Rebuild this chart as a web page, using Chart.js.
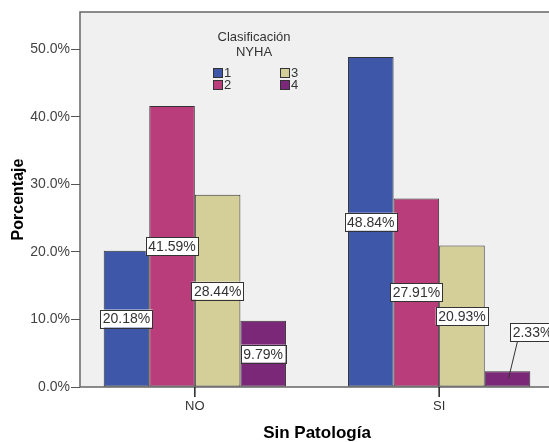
<!DOCTYPE html>
<html lang="es">
<head>
    <meta charset="UTF-8">
    <title>Clasificación NYHA por Sin Patología</title>
    <script src="https://cdn.jsdelivr.net/npm/chart.js"></script>
    <style>
        html, body {
            margin: 0;
            padding: 0;
            background: #fff;
            overflow: hidden;
        }
        #wrap {
            width: 560px;
            height: 442px;
        }
    </style>
</head>
<body>
    <div id="wrap"><canvas id="nyhaChart"></canvas></div>
    <script>
        const categories = ['NO', 'SI'];
        const seriesNames = ['1', '2', '3', '4'];
        const clase1 = [20.18, 48.84];
        const clase2 = [41.59, 27.91];
        const clase3 = [28.44, 20.93];
        const clase4 = [9.79, 2.33];
        const yTicks = [0, 10, 20, 30, 40, 50];
        const colors = ['#3e57a9', '#b93c7b', '#d4ce98', '#7c2878'];

        const seriesValues = [clase1, clase2, clase3, clase4];
        const datasets = seriesValues.map((vals, i) => ({
            label: seriesNames[i],
            data: vals.map((v, j) => ({ x: j, y: v })),
            backgroundColor: colors[i],
            borderColor: '#333',
            borderWidth: 1,
            borderSkipped: false,
            categoryPercentage: 0.746,
            barPercentage: 1
        }));

        // plot background + frame
        const framePlugin = {
            id: 'plotFrame',
            beforeDraw(chart) {
                const { ctx, chartArea: a } = chart;
                ctx.save();
                ctx.fillStyle = '#f0f0f0';
                ctx.fillRect(a.left, a.top, a.right - a.left, a.bottom - a.top);
                ctx.strokeStyle = '#666';
                ctx.lineWidth = 1.5;
                ctx.strokeRect(a.left, a.top, a.right - a.left, a.bottom - a.top);
                ctx.restore();
            }
        };

        // SPSS style legend inside the plot, two columns
        const legendPlugin = {
            id: 'nyhaLegend',
            afterDraw(chart) {
                const { ctx, chartArea: a } = chart;
                const cx = a.left + 174;
                const top = a.top + 25;
                ctx.save();
                ctx.font = '13px Arial, "Liberation Sans", sans-serif';
                ctx.fillStyle = '#333';
                ctx.textAlign = 'center';
                ctx.textBaseline = 'middle';
                ctx.fillText('Clasificación', cx, top);
                ctx.fillText('NYHA', cx, top + 15);
                ctx.textAlign = 'left';
                chart.data.datasets.forEach((ds, i) => {
                    const col = Math.floor(i / 2), row = i % 2;
                    const bx = a.left + 133 + col * 67;
                    const by = a.top + 56 + row * 12;
                    ctx.fillStyle = ds.backgroundColor;
                    ctx.fillRect(bx, by, 9, 9);
                    ctx.strokeStyle = '#333';
                    ctx.lineWidth = 1;
                    ctx.strokeRect(bx + 0.5, by + 0.5, 9, 9);
                    ctx.fillStyle = '#333';
                    ctx.fillText(ds.label, bx + 11, by + 5);
                });

                // category tick marks under the axis
                const xs = chart.scales.x;
                ctx.strokeStyle = '#222';
                ctx.lineWidth = 1.5;
                xs.ticks.forEach(t => {
                    const px = xs.getPixelForValue(t.value);
                    ctx.beginPath();
                    ctx.moveTo(px, a.bottom);
                    ctx.lineTo(px, a.bottom + 10);
                    ctx.stroke();
                });
                ctx.restore();
            }
        };

        // value boxes in the middle of each bar
        const labelPlugin = {
            id: 'boxLabels',
            afterDatasetsDraw(chart) {
                const { ctx } = chart;
                ctx.save();
                ctx.font = '14px Arial, "Liberation Sans", sans-serif';
                ctx.textAlign = 'center';
                ctx.textBaseline = 'middle';
                chart.data.datasets.forEach((ds, i) => {
                    const meta = chart.getDatasetMeta(i);
                    meta.data.forEach((bar, j) => {
                        const txt = ds.data[j].y.toFixed(2) + '%';
                        const w = ctx.measureText(txt).width + 5;
                        const h = 18;
                        let x = bar.x;
                        let y = (bar.y + bar.base) / 2;
                        const small = (bar.base - bar.y) < 24;
                        if (small) {
                            x = bar.x + 25;
                            y = bar.y - 39;
                            ctx.strokeStyle = '#333';
                            ctx.lineWidth = 1;
                            ctx.beginPath();
                            ctx.moveTo(bar.x + 10, y + h / 2);
                            ctx.lineTo(bar.x + 1, bar.base - 8);
                            ctx.stroke();
                        }
                        ctx.fillStyle = '#fff';
                        ctx.fillRect(x - w / 2, y - h / 2, w, h);
                        ctx.strokeStyle = '#333';
                        ctx.lineWidth = 1;
                        ctx.strokeRect(Math.round(x - w / 2) + 0.5, Math.round(y - h / 2) + 0.5, Math.round(w), h);
                        ctx.fillStyle = '#333';
                        ctx.fillText(txt, x, y + 1);
                    });
                });
                ctx.restore();
            }
        };

        const ctx = document.getElementById('nyhaChart').getContext('2d');
        new Chart(ctx, {
            type: 'bar',
            data: { datasets: datasets },
            plugins: [framePlugin, legendPlugin, labelPlugin],
            options: {
                responsive: true,
                maintainAspectRatio: false,
                animation: false,
                layout: { padding: { top: 12, right: 6, left: 0, bottom: 0 } },
                plugins: {
                    legend: { display: false },
                    tooltip: { enabled: false }
                },
                scales: {
                    x: {
                        type: 'linear',
                        offset: false,
                        min: -0.47,
                        max: 1.47,
                        afterBuildTicks: s => { s.ticks = categories.map((c, i) => ({ value: i })); },
                        afterFit: s => { s.height = 55; },
                        ticks: {
                            callback: v => categories[v],
                            font: { size: 13, family: 'Arial' },
                            color: '#333',
                            padding: 4,
                            maxRotation: 0
                        },
                        grid: { display: false },
                        border: { display: false },
                        title: {
                            display: true,
                            text: 'Sin Patología',
                            font: { size: 17, weight: 'bold', family: 'Arial', lineHeight: 1 },
                            color: '#000',
                            padding: { top: 4, bottom: 0 }
                        }
                    },
                    y: {
                        min: 0,
                        max: 55.5,
                        afterBuildTicks: s => { s.ticks = yTicks.map(v => ({ value: v })); },
                        afterFit: s => { s.width = 80; },
                        ticks: {
                            callback: v => v.toFixed(1) + '%',
                            font: { size: 14, family: 'Arial' },
                            color: '#444',
                            padding: 1
                        },
                        grid: { drawOnChartArea: false, drawTicks: true, tickLength: 9, color: '#555' },
                        border: { display: false },
                        title: {
                            display: true,
                            text: 'Porcentaje',
                            font: { size: 16, weight: 'bold', family: 'Arial' },
                            color: '#000',
                            padding: { top: 9, bottom: 0 }
                        }
                    }
                }
            }
        });
    </script>
</body>
</html>
